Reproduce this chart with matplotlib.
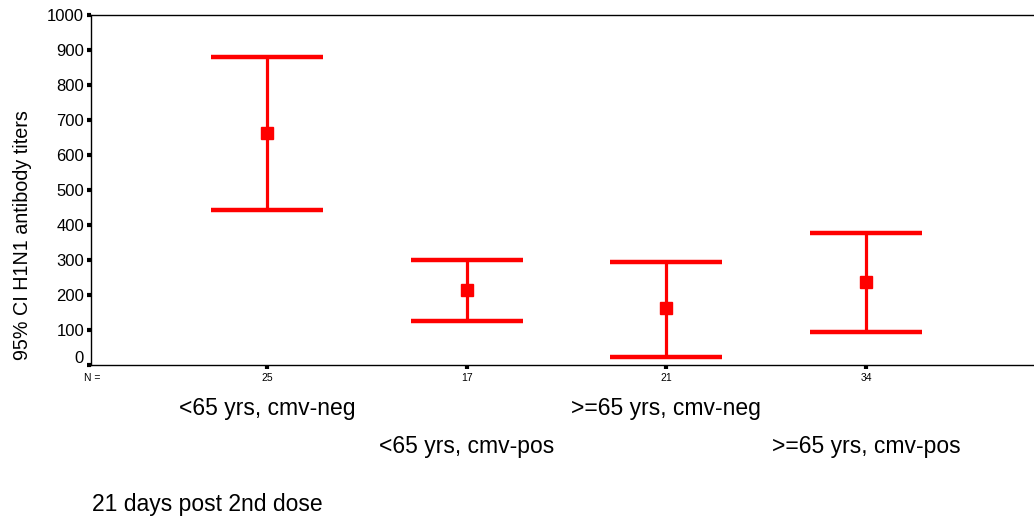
import numpy as np
import matplotlib
matplotlib.use('Agg')
import matplotlib.pyplot as plt
import matplotlib.transforms as mtransforms

plt.rcParams['font.family'] = ['Liberation Sans', 'DejaVu Sans']

# group data
groups = ['<65 yrs, cmv-neg', '<65 yrs, cmv-pos', '>=65 yrs, cmv-neg', '>=65 yrs, cmv-pos']
n_counts = ['25', '17', '21', '34']
means = [663, 214, 162, 236]
ci_low = [443, 126, 24, 93]
ci_high = [880, 300, 295, 376]
y_ticks = [0, 100, 200, 300, 400, 500, 600, 700, 800, 900, 1000]

x = np.arange(1, len(groups) + 1)
means = np.array(means)
err = [means - np.array(ci_low), np.array(ci_high) - means]

fig = plt.figure(figsize=(10.34, 5.23), dpi=100)
ax = fig.add_axes([91 / 1034, 1 - 365 / 523, 1 - 91 / 1034, (365 - 14.7) / 523])

ax.errorbar(x, means, yerr=err, fmt='s', color='#ff0000', ecolor='#ff0000',
            markersize=8, elinewidth=2.3, capsize=40.5, capthick=3.2)

ax.set_xlim(0.119, 4.84)
ax.set_ylim(0, 1000)
ax.set_yticks(y_ticks)
ax.set_yticklabels([str(v) for v in y_ticks], fontsize=12)
ax.set_xticks(x)
ax.set_xticklabels(n_counts, fontsize=7.5)

ax.spines['right'].set_visible(False)
for s in ['left', 'top', 'bottom']:
    ax.spines[s].set_linewidth(1.0)
ax.tick_params(axis='both', direction='out', length=3, width=3, color='black')
ax.tick_params(axis='y', pad=2)
ax.tick_params(axis='x', pad=3)

# zero label sits a bit above its tick in the original
zero_lab = ax.get_yticklabels()[0]
zero_lab.set_transform(zero_lab.get_transform() +
                       mtransforms.ScaledTranslation(0, 8 / 100, fig.dpi_scale_trans))

# y title is placed low, not centred on the axis
fig.text(23 / 1034, 1 - 235 / 523, '95% CI H1N1 antibody titers', fontsize=14.2,
         rotation=90, ha='center', va='center')

fig.text(92 / 1034, 1 - 378 / 523, 'N =', fontsize=7.5, ha='center', va='center')

# staggered category names under the axis
rows = [408, 446]
for i, g in enumerate(groups):
    xp = (67.3 + 199.67 * x[i]) / 1034
    fig.text(xp, 1 - rows[i % 2] / 523, g, fontsize=16.5, ha='center', va='center')

fig.text(92 / 1034, 1 - 505 / 523, '21 days post 2nd dose', fontsize=16.5,
         ha='left', va='center')

fig.savefig('out.png', dpi=100)
